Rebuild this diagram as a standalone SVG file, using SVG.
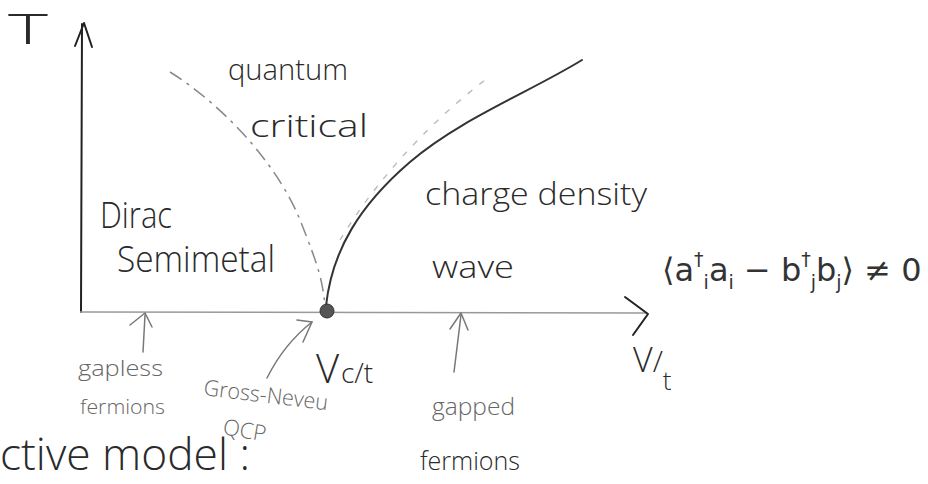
<svg xmlns="http://www.w3.org/2000/svg" width="928" height="484" viewBox="0 0 928 484">
<style>
  text { font-family: "Open Sans", "Liberation Sans", sans-serif; font-weight: 300; fill: #2a2a2a; }
  .light { fill: #666; }
  .math { font-family: "DejaVu Sans", "Liberation Sans", sans-serif; font-weight: normal; fill: #333; }
  .ink { fill: none; stroke: #222; stroke-width: 2; stroke-linecap: round; stroke-linejoin: round; }
  .pencil { fill: none; stroke: #777; stroke-width: 1.5; stroke-linecap: round; stroke-linejoin: round; }
</style>
<rect width="928" height="484" fill="#ffffff"/>

<g id="axes">
  <line class="ink" x1="82" y1="24" x2="81" y2="312"/>
  <polyline class="ink" points="75,46 84,23 92,47"/>
  <line x1="80" y1="312" x2="647" y2="313" stroke="#999" stroke-width="1.6"/>
  <polyline class="ink" points="625,297 648,314 633,335"/>
</g>

<g id="connectors">
  <path d="M170,72 C230,110 280,170 300,220 S322,280 325,305" fill="none" stroke="#888" stroke-width="1.5" stroke-dasharray="14 6 3 6"/>
  <path d="M340,240 C370,190 420,130 485,80" fill="none" stroke="#bbb" stroke-width="1.4" stroke-dasharray="6 9"/>
  <path d="M326,306 C332,250 360,205 410,162 S530,92 582,60" fill="none" stroke="#333" stroke-width="2" stroke-linecap="round"/>
  <line class="pencil" x1="143" y1="352" x2="145" y2="315"/>
  <polyline class="pencil" points="130,325 145,313 152,327"/>
  <line class="pencil" x1="454" y1="372" x2="461" y2="315"/>
  <polyline class="pencil" points="450,329 461,313 468,330"/>
  <path class="pencil" d="M267,378 Q284,344 312,322"/>
  <polyline class="pencil" points="297,320 312,322 303,342"/>
</g>

<g id="qcp-point">
  <circle cx="327" cy="311" r="7" fill="#555" stroke="#333" stroke-width="1"/>
</g>

<g id="axis-labels">
  <text x="8" y="44" font-size="42" textLength="40" lengthAdjust="spacingAndGlyphs">T</text>
  <text x="633" y="372" font-size="34">V<tspan font-size="30">/</tspan><tspan dy="18" font-size="26">t</tspan></text>
</g>

<g id="quantum-critical">
  <text x="228" y="80" font-size="30" textLength="120" lengthAdjust="spacingAndGlyphs">quantum</text>
  <text x="250" y="137" font-size="32" textLength="118" lengthAdjust="spacingAndGlyphs">critical</text>
</g>

<g id="dirac-semimetal">
  <text x="100" y="228" font-size="36" textLength="72" lengthAdjust="spacingAndGlyphs">Dirac</text>
  <text x="117" y="272" font-size="36" textLength="158" lengthAdjust="spacingAndGlyphs">Semimetal</text>
</g>

<g id="cdw">
  <text x="425" y="205" font-size="32" textLength="222" lengthAdjust="spacingAndGlyphs">charge density</text>
  <text x="432" y="278" font-size="32" textLength="82" lengthAdjust="spacingAndGlyphs">wave</text>
  <text class="math" x="662" y="281" font-size="32">⟨a<tspan dy="-15" font-size="19">†</tspan><tspan dy="23" font-size="19">i</tspan><tspan dy="-8">a</tspan><tspan dy="8" font-size="19">i</tspan><tspan dy="-8"> − b</tspan><tspan dy="-15" font-size="19">†</tspan><tspan dy="23" font-size="19">j</tspan><tspan dy="-8">b</tspan><tspan dy="8" font-size="19">j</tspan><tspan dy="-8">⟩ ≠ 0</tspan></text>
</g>

<g id="vc-label">
  <text x="316" y="383" font-size="40">V</text>
  <text x="341" y="383" font-size="28">c/t</text>
</g>

<g id="gapless-label">
  <text class="light" x="78" y="376" font-size="22" textLength="85" lengthAdjust="spacingAndGlyphs">gapless</text>
  <text class="light" x="80" y="414" font-size="21" textLength="85" lengthAdjust="spacingAndGlyphs">fermions</text>
</g>

<g id="gn-label">
  <text class="light" x="203" y="395" font-size="22" textLength="125" lengthAdjust="spacingAndGlyphs" transform="rotate(7 203 395)">Gross-Neveu</text>
  <text class="light" x="222" y="434" font-size="22" transform="rotate(10 222 434)">QCP</text>
</g>

<g id="gapped-label">
  <text class="light" x="432" y="415" font-size="24" textLength="83" lengthAdjust="spacingAndGlyphs">gapped</text>
  <text x="420" y="470" font-size="26" textLength="100" lengthAdjust="spacingAndGlyphs">fermions</text>
</g>

<g id="bottom-text">
  <text x="0" y="470" font-size="44" textLength="250" lengthAdjust="spacingAndGlyphs">ctive model :</text>
</g>
</svg>
